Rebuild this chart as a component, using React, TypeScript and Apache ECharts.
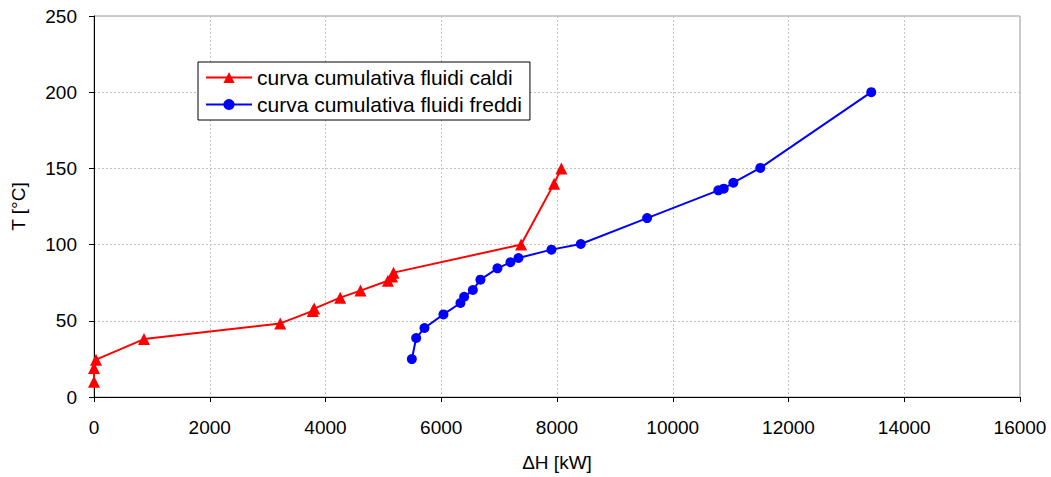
import React, { useEffect, useRef } from "react";
import * as echarts from "echarts";

const hotX = [0, 0, 35, 864, 3218, 3780, 3805, 4254, 4605, 5078, 5150, 5175, 7380, 7950, 8076];
const hotT = [10, 19, 24.5, 38, 48.3, 56.5, 58, 65.2, 69.8, 76.3, 79, 81.6, 100, 140, 150];

const coldX = [5492, 5567, 5710, 6038, 6332, 6396, 6546, 6677, 6971, 7196, 7334, 7904, 8411, 9557, 10788, 10881, 11047, 11513, 13430];
const coldT = [24.9, 38.7, 45.3, 54.2, 61.7, 65.8, 70.2, 77, 84.4, 88.4, 91.2, 96.7, 100.4, 117.4, 135.6, 136.7, 140.6, 150.3, 200];

const hotName = "curva cumulativa fluidi caldi";
const coldName = "curva cumulativa fluidi freddi";

export default function App() {
  const ref = useRef<HTMLDivElement>(null);
  useEffect(() => {
    const chart = echarts.init(ref.current!, null, { renderer: "svg" });
    const font = "Liberation Sans, Arial, sans-serif";
    chart.setOption({
      animation: false,
      textStyle: { fontFamily: font },
      grid: { left: 94, right: 31, top: 16, bottom: 79, show: true, borderColor: "#999", borderWidth: 1 },
      legend: {
        orient: "vertical",
        left: 198,
        top: 62,
        backgroundColor: "#fff",
        borderColor: "#000",
        borderWidth: 1,
        padding: [5, 8, 5, 7],
        itemGap: 6,
        itemWidth: 46,
        itemHeight: 14,
        textStyle: { fontSize: 21, color: "#000", fontFamily: font },
        data: [hotName, coldName],
      },
      xAxis: {
        type: "value",
        min: 0,
        max: 16000,
        interval: 2000,
        name: "\u0394H [kW]",
        nameLocation: "middle",
        nameGap: 56,
        nameTextStyle: { fontSize: 19, color: "#000", fontFamily: font },
        axisLine: { onZero: false, lineStyle: { color: "#000", width: 1 } },
        axisTick: { show: true, length: 5, lineStyle: { color: "#000" } },
        axisLabel: { fontSize: 19, color: "#000", margin: 21, fontFamily: font, formatter: (v: number) => String(v) },
        splitLine: { show: true, lineStyle: { color: "#c4c4c4", type: [2, 2] } },
      },
      yAxis: {
        type: "value",
        min: 0,
        max: 250,
        interval: 50,
        name: "T [\u00b0C]",
        nameLocation: "middle",
        nameGap: 66,
        nameTextStyle: { fontSize: 19, color: "#000", fontFamily: font },
        axisLine: { show: true, lineStyle: { color: "#000", width: 1 } },
        axisTick: { show: true, length: 5, lineStyle: { color: "#000" } },
        axisLabel: { fontSize: 19, color: "#000", margin: 17, fontFamily: font },
        splitLine: { show: true, lineStyle: { color: "#c4c4c4", type: [2, 2] } },
      },
      series: [
        {
          name: hotName,
          type: "line",
          data: hotX.map((x, i) => [x, hotT[i]]),
          symbol: "triangle",
          symbolSize: 12,
          color: "#ff0000",
          lineStyle: { color: "#ff0000", width: 2 },
          itemStyle: { color: "#ff0000" },
        },
        {
          name: coldName,
          type: "line",
          data: coldX.map((x, i) => [x, coldT[i]]),
          symbol: "circle",
          symbolSize: 10,
          color: "#0000ff",
          lineStyle: { color: "#0000ff", width: 2 },
          itemStyle: { color: "#0000ff" },
        },
      ],
    });
    return () => chart.dispose();
  }, []);
  return <div ref={ref} style={{ width: 1051, height: 477, position: "absolute", left: 0, top: 0 }} />;
}
